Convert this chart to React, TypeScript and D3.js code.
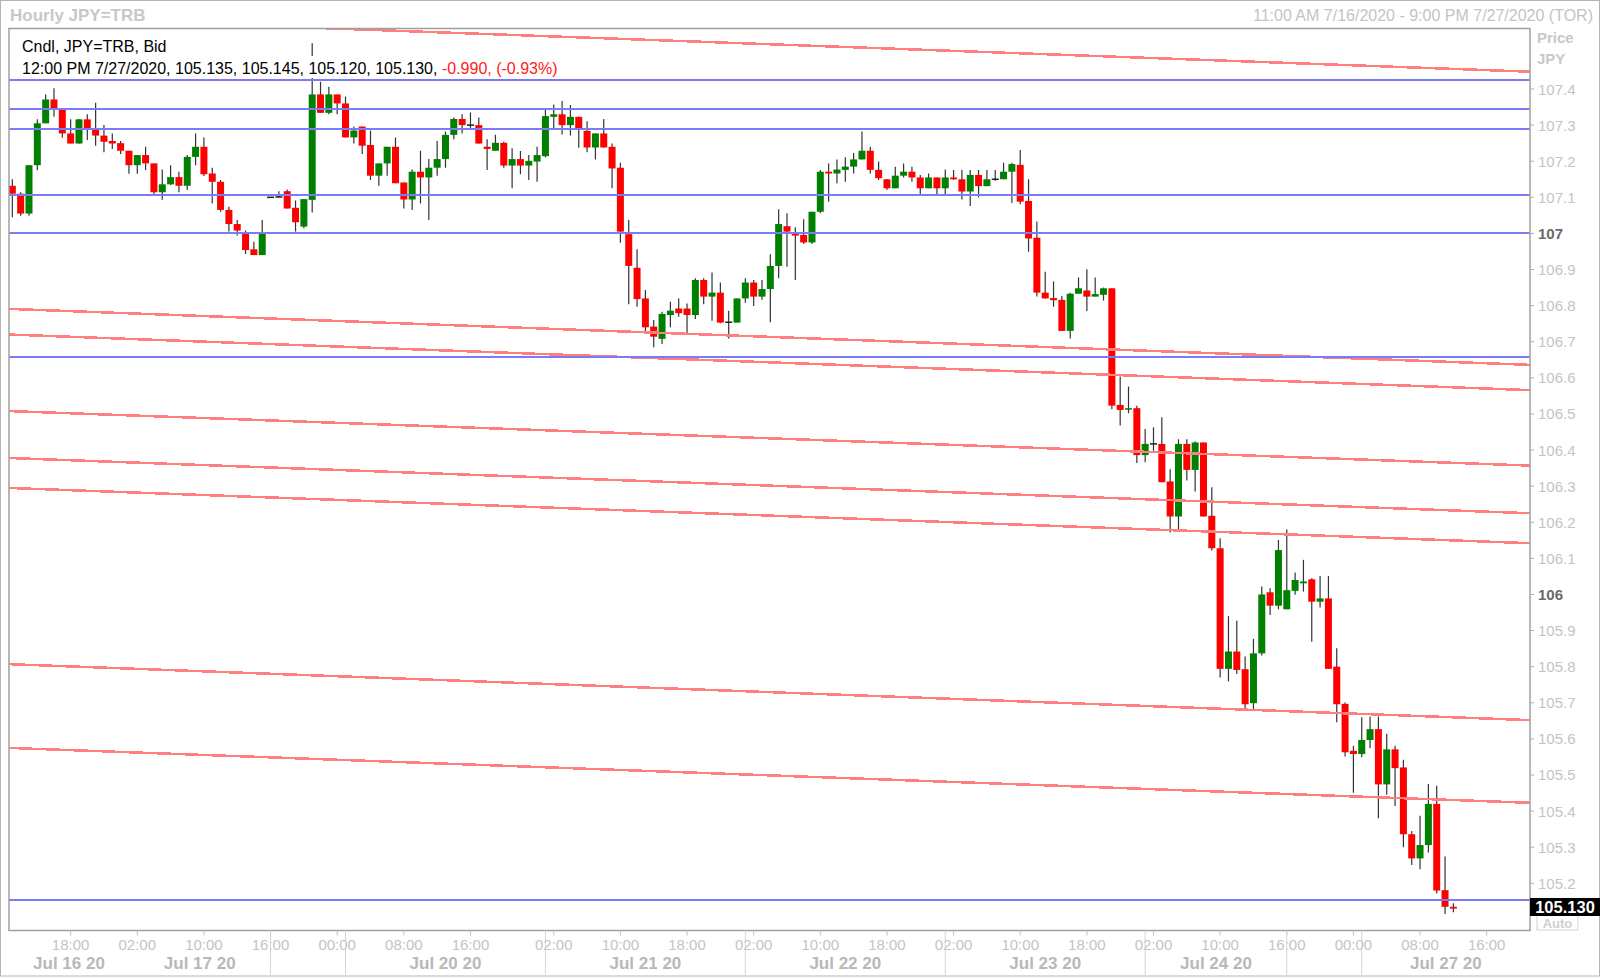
import React from 'react';
import * as d3 from 'd3';

// ---- Data (hourly JPY=TRB candles, index 0 = 11:00 AM 7/16/2020) ----
const OPEN = [
  107.132, 107.110, 107.055, 107.189, 107.305, 107.371, 107.342, 107.277, 107.249, 107.316,
  107.291, 107.271, 107.256, 107.250, 107.229, 107.189, 107.217, 107.194, 107.114, 107.136,
  107.156, 107.132, 107.212, 107.240, 107.166, 107.143, 107.065, 107.026, 107.000, 106.956,
  106.940, 107.100, 107.100, 107.117, 107.071, 107.019, 107.093, 107.385, 107.334, 107.385,
  107.360, 107.266, 107.296, 107.245, 107.160, 107.194, 107.240, 107.141, 107.094, 107.171,
  107.155, 107.182, 107.206, 107.273, 107.317, 107.300, 107.300, 107.240, 107.229, 107.251,
  107.188, 107.206, 107.188, 107.199, 107.214, 107.323, 107.330, 107.300, 107.323, 107.284,
  107.238, 107.277, 107.240, 107.182, 106.998, 106.905, 106.820, 106.742, 106.708, 106.774,
  106.792, 106.792, 106.774, 106.871, 106.825, 106.836, 106.754, 106.753, 106.820, 106.864,
  106.825, 106.846, 106.910, 107.020, 107.000, 106.996, 106.975, 107.060, 107.171, 107.166,
  107.176, 107.185, 107.205, 107.229, 107.176, 107.150, 107.125, 107.160, 107.171, 107.155,
  107.125, 107.155, 107.125, 107.155, 107.150, 107.116, 107.162, 107.131, 107.150, 107.150,
  107.171, 107.190, 107.090, 106.988, 106.836, 106.821, 106.816, 106.730, 106.833, 106.842,
  106.825, 106.830, 106.848, 106.525, 106.513, 106.516, 106.386, 106.417, 106.417, 106.313,
  106.216, 106.417, 106.345, 106.421, 106.218, 106.128, 105.794, 105.842, 105.793, 105.699,
  105.837, 106.006, 105.969, 105.959, 106.010, 106.031, 106.042, 105.980, 105.989, 105.800,
  105.697, 105.567, 105.558, 105.597, 105.627, 105.474, 105.571, 105.521, 105.336, 105.269,
  105.306, 105.420, 105.181, 105.135,
];
const HIGH = [
  107.150, 107.114, 107.189, 107.316, 107.385, 107.402, 107.342, 107.316, 107.316, 107.330,
  107.362, 107.300, 107.277, 107.256, 107.229, 107.217, 107.240, 107.194, 107.177, 107.189,
  107.171, 107.217, 107.277, 107.266, 107.182, 107.148, 107.074, 107.037, 107.008, 106.977,
  107.037, 107.100, 107.117, 107.122, 107.091, 107.095, 107.527, 107.420, 107.406, 107.385,
  107.379, 107.296, 107.296, 107.285, 107.194, 107.240, 107.266, 107.141, 107.177, 107.229,
  107.206, 107.256, 107.282, 107.321, 107.330, 107.335, 107.321, 107.261, 107.273, 107.254,
  107.236, 107.228, 107.217, 107.240, 107.342, 107.357, 107.367, 107.356, 107.323, 107.311,
  107.277, 107.317, 107.249, 107.196, 107.037, 106.956, 106.843, 106.760, 106.783, 106.811,
  106.820, 106.806, 106.876, 106.876, 106.892, 106.864, 106.786, 106.820, 106.876, 106.871,
  106.871, 106.942, 107.067, 107.056, 107.017, 107.039, 107.060, 107.176, 107.194, 107.205,
  107.211, 107.223, 107.282, 107.240, 107.199, 107.150, 107.185, 107.194, 107.185, 107.162,
  107.166, 107.155, 107.177, 107.176, 107.176, 107.176, 107.176, 107.176, 107.176, 107.196,
  107.196, 107.231, 107.150, 107.033, 106.894, 106.867, 106.827, 106.836, 106.878, 106.901,
  106.878, 106.850, 106.848, 106.604, 106.576, 106.523, 106.458, 106.463, 106.491, 106.347,
  106.430, 106.430, 106.424, 106.421, 106.297, 106.156, 105.940, 105.927, 105.828, 105.877,
  106.022, 106.017, 106.151, 106.180, 106.061, 106.096, 106.045, 106.051, 106.051, 105.851,
  105.701, 105.581, 105.660, 105.662, 105.662, 105.614, 105.581, 105.542, 105.345, 105.387,
  105.475, 105.470, 105.274, 105.145,
];
const LOW = [
  107.045, 107.049, 107.049, 107.175, 107.305, 107.323, 107.265, 107.249, 107.249, 107.259,
  107.243, 107.225, 107.234, 107.220, 107.165, 107.165, 107.176, 107.106, 107.093, 107.134,
  107.114, 107.120, 107.189, 107.159, 107.083, 107.060, 107.005, 106.994, 106.943, 106.940,
  106.940, 107.100, 107.100, 107.069, 107.005, 107.014, 107.058, 107.334, 107.330, 107.330,
  107.266, 107.249, 107.220, 107.148, 107.132, 107.160, 107.139, 107.069, 107.065, 107.083,
  107.037, 107.160, 107.182, 107.261, 107.277, 107.291, 107.249, 107.176, 107.229, 107.182,
  107.125, 107.164, 107.148, 107.143, 107.211, 107.291, 107.274, 107.271, 107.237, 107.225,
  107.205, 107.238, 107.125, 106.974, 106.804, 106.797, 106.728, 106.685, 106.694, 106.740,
  106.769, 106.723, 106.763, 106.804, 106.758, 106.751, 106.709, 106.753, 106.808, 106.799,
  106.816, 106.754, 106.876, 106.908, 106.871, 106.971, 106.971, 107.056, 107.088, 107.139,
  107.143, 107.166, 107.205, 107.166, 107.148, 107.120, 107.125, 107.155, 107.143, 107.109,
  107.125, 107.109, 107.109, 107.148, 107.094, 107.076, 107.100, 107.131, 107.146, 107.150,
  107.084, 107.081, 106.949, 106.825, 106.820, 106.797, 106.730, 106.709, 106.833, 106.785,
  106.825, 106.814, 106.513, 106.468, 106.502, 106.364, 106.366, 106.398, 106.311, 106.172,
  106.174, 106.316, 106.285, 106.216, 106.122, 105.770, 105.759, 105.780, 105.683, 105.683,
  105.831, 105.943, 105.959, 105.959, 105.999, 106.008, 105.869, 105.964, 105.794, 105.646,
  105.551, 105.451, 105.549, 105.574, 105.380, 105.445, 105.414, 105.300, 105.251, 105.239,
  105.285, 105.172, 105.115, 105.120,
];
const CLOSE = [
  107.110, 107.055, 107.189, 107.305, 107.371, 107.342, 107.277, 107.249, 107.316, 107.291,
  107.271, 107.254, 107.249, 107.229, 107.189, 107.217, 107.194, 107.114, 107.136, 107.156,
  107.132, 107.212, 107.240, 107.164, 107.143, 107.065, 107.026, 107.008, 106.954, 106.940,
  107.000, 107.100, 107.101, 107.069, 107.031, 107.095, 107.385, 107.334, 107.385, 107.360,
  107.266, 107.285, 107.243, 107.160, 107.194, 107.240, 107.139, 107.094, 107.171, 107.155,
  107.182, 107.206, 107.273, 107.317, 107.300, 107.300, 107.249, 107.234, 107.251, 107.188,
  107.206, 107.188, 107.201, 107.217, 107.325, 107.330, 107.300, 107.323, 107.291, 107.238,
  107.277, 107.238, 107.180, 107.005, 106.910, 106.818, 106.740, 106.714, 106.777, 106.786,
  106.779, 106.774, 106.871, 106.825, 106.836, 106.753, 106.754, 106.820, 106.864, 106.825,
  106.846, 106.910, 107.026, 107.005, 106.994, 106.975, 107.060, 107.171, 107.166, 107.177,
  107.185, 107.205, 107.229, 107.176, 107.153, 107.125, 107.160, 107.171, 107.155, 107.125,
  107.155, 107.125, 107.155, 107.150, 107.116, 107.162, 107.131, 107.150, 107.150, 107.171,
  107.192, 107.088, 106.986, 106.836, 106.820, 106.815, 106.730, 106.833, 106.848, 106.825,
  106.832, 106.848, 106.523, 106.511, 106.516, 106.386, 106.417, 106.417, 106.311, 106.216,
  106.417, 106.345, 106.421, 106.216, 106.128, 105.794, 105.842, 105.791, 105.696, 105.837,
  106.000, 105.969, 106.123, 106.012, 106.040, 106.036, 105.980, 105.989, 105.794, 105.696,
  105.563, 105.558, 105.597, 105.627, 105.474, 105.571, 105.519, 105.336, 105.269, 105.306,
  105.420, 105.180, 105.135, 105.130,
];

// Horizontal drawn levels (blue)
const BLUE_LEVELS = [107.425, 107.346, 107.288, 107.106, 107.002, 106.659, 105.154];
// Parallel trend lines (red): price at left edge and at right edge
const TREND_START = [107.600, 106.791, 106.720, 106.508, 106.378, 106.295, 105.807, 105.575];
const TREND_END = [107.448, 106.636, 106.566, 106.357, 106.225, 106.142, 105.652, 105.423];

const PRICE_TICKS = [105.2, 105.3, 105.4, 105.5, 105.6, 105.7, 105.8, 105.9, 106, 106.1, 106.2,
  106.3, 106.4, 106.5, 106.6, 106.7, 106.8, 106.9, 107, 107.1, 107.2, 107.3, 107.4];

const TIME_TICK_INDEX = [7, 15, 23, 31, 39, 47, 55, 65, 73, 81, 89, 97, 105, 113, 121, 129, 137, 145, 153, 161, 169, 177];
const TIME_TICK_LABELS = ['18:00', '02:00', '10:00', '16:00', '00:00', '08:00', '16:00', '02:00', '10:00', '18:00',
  '02:00', '10:00', '18:00', '02:00', '10:00', '18:00', '02:00', '10:00', '16:00', '00:00', '08:00', '16:00'];
const DAY_BREAKS = [31, 40, 64, 88, 112, 136, 153, 162];
const DATE_LABELS = ['Jul 16 20', 'Jul 17 20', 'Jul 20 20', 'Jul 21 20', 'Jul 22 20', 'Jul 23 20', 'Jul 24 20', 'Jul 27 20'];
const DATE_START = [-0.4, 14, 40, 64, 88, 112, 136, 162];
const DATE_END = [14, 31, 64, 88, 112, 136, 153, 182.2];

const FIRST_INDEX = -0.4;
const LAST_INDEX = 182.2;

const FONT = "'Liberation Sans', Arial, sans-serif";

export default function App() {
  const W = 1600, H = 978;
  const L = 9, R = 1530, T = 28.5, B = 930.5;

  const x = d3.scaleLinear().domain([FIRST_INDEX, LAST_INDEX]).range([L, R]);
  const y = d3.scaleLinear().domain([105.0693, 107.5676]).range([B, T]);

  const candles = OPEN.map((o, i) => ({ i, o, h: HIGH[i], l: LOW[i], c: CLOSE[i] }));
  const bodyW = 7;

  const trendLine = d3.line<[number, number]>().x(d => x(d[0])).y(d => y(d[1]));

  return (
    <svg width={W} height={H} style={{ position: 'absolute', left: 0, top: 0, background: '#fff' }}
      fontFamily={FONT}>
      <defs>
        <clipPath id="plotClip">
          <rect x={L} y={T} width={R - L} height={B - T} />
        </clipPath>
      </defs>
      <rect x={0.5} y={0.5} width={W - 1} height={H - 2.5} fill="#fff" stroke="#b4b4b4" />

      {/* header */}
      <text x={10} y={21} fontSize={17} fontWeight="bold" fill="#c8c8c8">Hourly JPY=TRB</text>
      <text x={1593} y={21} fontSize={16} fill="#c4c4c4" textAnchor="end">
        11:00 AM 7/16/2020 - 9:00 PM 7/27/2020 (TOR)
      </text>

      {/* plot */}
      <g clipPath="url(#plotClip)">
        {candles.map(d => {
          const cx = x(d.i);
          const top = y(Math.max(d.o, d.c));
          const bot = y(Math.min(d.o, d.c));
          const doji = Math.abs(d.c - d.o) < 0.002;
          const fill = doji ? '#202020' : d.c > d.o ? '#008000' : '#ff0000';
          return (
            <g key={d.i}>
              <line x1={cx} x2={cx} y1={y(d.h)} y2={y(d.l)} stroke="#333" strokeWidth={1.2} />
              <rect x={cx - bodyW / 2} y={doji ? top - 0.75 : top} width={bodyW}
                height={doji ? 1.5 : Math.max(1.5, bot - top)} fill={fill} />
            </g>
          );
        })}
        {TREND_START.map((p, k) => (
          <path key={'t' + k}
            d={trendLine([[FIRST_INDEX, p], [LAST_INDEX, TREND_END[k]]]) || ''}
            stroke="#ff7f7f" strokeWidth={2.5} fill="none" shapeRendering="crispEdges" />
        ))}
        {BLUE_LEVELS.map((p, k) => {
          const yy = Math.round(y(p));
          return (
            <line key={'b' + k} x1={L} x2={R} y1={yy} y2={yy} stroke="#7b7bf6" strokeWidth={2} />
          );
        })}
      </g>

      {/* legend */}
      <rect x={20} y={37} width={142} height={19} fill="#fff" />
      <rect x={20} y={56} width={542} height={22} fill="#fff" />
      <text x={22} y={52} fontSize={16} fill="#000">Cndl, JPY=TRB, Bid</text>
      <text x={22} y={73.5} fontSize={16} fill="#000">
        12:00 PM 7/27/2020, 105.135, 105.145, 105.120, 105.130, <tspan fill="#ff2020">-0.990, (-0.93%)</tspan>
      </text>

      {/* plot frame */}
      <rect x={L} y={T} width={R - L} height={B - T} fill="none" stroke="#a0a0a0" strokeWidth={1.5} />

      {/* price axis */}
      <text x={1537} y={43} fontSize={15} fontWeight="bold" fill="#c8c8c8">Price</text>
      <text x={1537} y={64} fontSize={15} fontWeight="bold" fill="#c8c8c8">JPY</text>
      {PRICE_TICKS.map(v => {
        const isInt = Math.abs(v - Math.round(v)) < 1e-6;
        const yy = y(v);
        return (
          <g key={'p' + v}>
            <line x1={R} x2={R + 4} y1={yy} y2={yy} stroke="#b0b0b0" />
            <text x={1538} y={yy + 5.5} fontSize={15} fontWeight={isInt ? 'bold' : 'normal'}
              fill={isInt ? '#6a6a6a' : '#c4c4c4'}>
              {isInt ? String(Math.round(v)) : v.toFixed(1)}
            </text>
          </g>
        );
      })}
      <rect x={1537} y={912} width={41} height={18} fill="#fff" stroke="#d4d4d4" />
      <text x={1557.5} y={928} fontSize={13} fontWeight="bold" fill="#cfcfcf" textAnchor="middle">Auto</text>
      <rect x={R} y={898} width={W - R} height={18} fill="#000" />
      <text x={1565} y={913} fontSize={16.5} fontWeight="bold" fill="#fff" textAnchor="middle">
        {CLOSE[CLOSE.length - 1].toFixed(3)}
      </text>

      {/* time axis */}
      {TIME_TICK_INDEX.map((ti, k) => (
        <g key={'tt' + k}>
          <line x1={x(ti)} x2={x(ti)} y1={B} y2={B + 5} stroke="#c0c0c0" />
          <text x={x(ti)} y={949.5} fontSize={15} fill="#c4c4c4" textAnchor="middle">{TIME_TICK_LABELS[k]}</text>
        </g>
      ))}
      {DAY_BREAKS.map(di => (
        <line key={'d' + di} x1={x(di)} x2={x(di)} y1={B} y2={975} stroke="#d4d4d4" />
      ))}
      {DATE_LABELS.map((lab, k) => (
        <text key={'dl' + k} x={(x(DATE_START[k]) + x(DATE_END[k])) / 2} y={969} fontSize={17}
          fontWeight="bold" fill="#b8b8b8" textAnchor="middle">{lab}</text>
      ))}
    </svg>
  );
}
